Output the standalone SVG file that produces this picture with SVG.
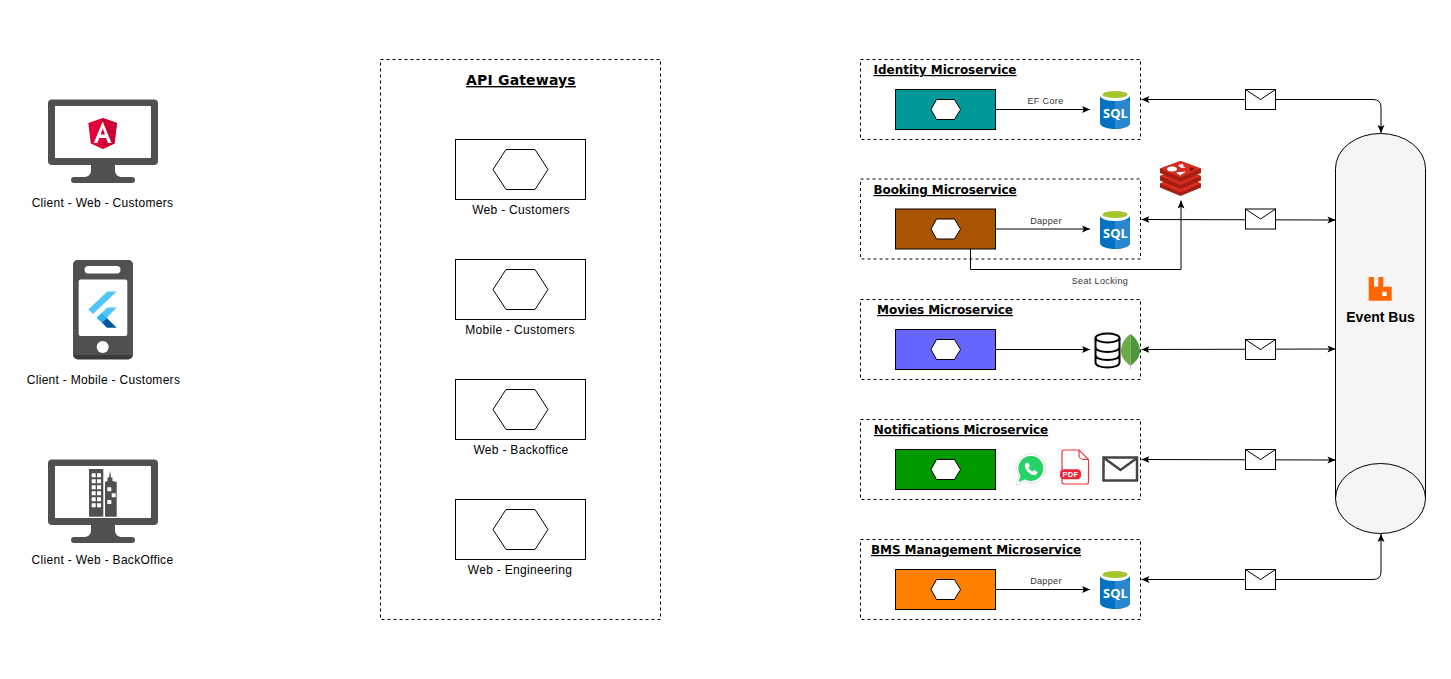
<svg xmlns="http://www.w3.org/2000/svg" width="1451" height="679" viewBox="0 0 1451 679">
<style>
text{font-family:"Liberation Sans",Arial,sans-serif;fill:#000;text-anchor:middle}
.lbl{font-size:12px;letter-spacing:.3px}
.sm{font-size:9px;fill:#333;letter-spacing:.37px}
.ttl{font-family:"DejaVu Sans",Verdana,sans-serif;font-weight:bold;text-decoration:underline;font-size:12px;letter-spacing:-.08px}
.box{fill:none;stroke:#000;stroke-dasharray:3 3}
.gw{fill:#fff;stroke:#000}
.hex{fill:#fff;stroke:#000}
.edge{fill:none;stroke:#000;stroke-width:1}
.env{fill:#fff;stroke:#000}
.dark{fill:#505050}
</style>
<defs>
<marker id="a" viewBox="0 0 8 8" refX="8" refY="4" markerWidth="8" markerHeight="8" orient="auto-start-reverse" markerUnits="userSpaceOnUse"><path d="M0 0.500L8 4L0 7.500L1.800 4Z" fill="#000"/></marker>
<g id="monitor"><path class="dark" fill-rule="evenodd" d="M52 99.500H154a4 4 0 0 1 4 4V161a4 4 0 0 1-4 4H115v5q0 6 6 7h11a3 3 0 0 1 0 6H74a3 3 0 0 1 0-6h11q6-1 6-7v-5H52a4 4 0 0 1-4-4V103.500a4 4 0 0 1 4-4ZM55 106V158H151V106Z"/></g>
<g id="sql"><path d="M1100 95V123C1100 126.500 1107 129 1115 129S1130 126.500 1130 123V95Z" fill="#0072c6"/><path d="M1115 100H1130V123C1130 126.500 1123 129 1115 129Z" fill="#2a88d0"/><ellipse cx="1115" cy="95.500" rx="15" ry="5.500" fill="#fff"/><ellipse cx="1115" cy="94.500" rx="12.500" ry="3.500" fill="#a4c62a"/><text x="1115.500" y="117.700" style="font-family:'Open Sans',sans-serif;font-size:13px;font-weight:700;fill:#fff">SQL</text></g>
<g id="envelope"><rect class="env" x="0" y="0" width="30" height="20"/><path d="M0 0L15 10L30 0" fill="none" stroke="#000"/></g>
</defs>

<g id="connectors">
<path class="edge" d="M996 109.500H1090" marker-end="url(#a)"/>
<path class="edge" d="M996 229H1090" marker-end="url(#a)"/>
<path class="edge" d="M996 349.500H1090" marker-end="url(#a)"/>
<path class="edge" d="M996 589.500H1090" marker-end="url(#a)"/>
<path class="edge" d="M970.500 249V269.500H1181V200.500" marker-end="url(#a)"/>
<path class="edge" d="M1141.500 99.500H1373Q1381 99.500 1381 107V133" marker-start="url(#a)" marker-end="url(#a)"/>
<path class="edge" d="M1141.500 219.500L1335.500 220" marker-start="url(#a)" marker-end="url(#a)"/>
<path class="edge" d="M1141.500 349.500L1335.500 349" marker-start="url(#a)" marker-end="url(#a)"/>
<path class="edge" d="M1141.500 459.500L1335.500 460" marker-start="url(#a)" marker-end="url(#a)"/>
<path class="edge" d="M1141.500 579.500H1373Q1381 579.500 1381 572V534" marker-start="url(#a)" marker-end="url(#a)"/>
<text class="sm" x="1045.500" y="104">EF Core</text>
<text class="sm" x="1046" y="224">Dapper</text>
<text class="sm" x="1046" y="584">Dapper</text>
<text class="sm" x="1100" y="284">Seat Locking</text>
<use href="#envelope" x="1245.500" y="89.500"/>
<use href="#envelope" x="1245.500" y="209"/>
<use href="#envelope" x="1245.500" y="339.500"/>
<use href="#envelope" x="1245.500" y="449.500"/>
<use href="#envelope" x="1245.500" y="569.500"/>
</g>

<g id="client-web-customers">
<use href="#monitor"/>
<path d="M102.700 118L117 123L114.500 143.500L102.700 149L90.800 143.500L88.300 123Z" fill="#e2003a"/>
<path d="M102.700 118L117 123L114.500 143.500L102.700 149Z" fill="#cc0033"/>
<path d="M102.700 121.500L111.500 143H108L106 138H99.300L97.300 143H93.800ZM100.500 134.500H105L102.700 128.500Z" fill="#fff" fill-rule="evenodd"/>
<text class="lbl" x="102.500" y="207">Client - Web - Customers</text>
</g>

<g id="client-mobile-customers">
<rect x="73" y="260" width="60" height="99.500" rx="5" fill="#3a3a3a"/>
<path d="M78 260H128a5 5 0 0 1 5 5V355H73V265a5 5 0 0 1 5-5Z" fill="#505050"/>
<rect x="84.500" y="266" width="36" height="7.500" rx="3.700" fill="#fff"/>
<rect x="78.700" y="279.500" width="48.600" height="56.500" rx="2" fill="#fff"/>
<circle cx="102.700" cy="347" r="6" fill="#fff"/>
<path d="M88.300 309.500L107.300 291.500H116.700L93 314Z" fill="#54c5f8"/>
<path d="M96.700 317.700L107.300 307.500H116.700L102 322.700Z" fill="#54c5f8"/>
<path d="M96.700 317.700L101.500 313L106.800 318L102 322.700Z" fill="#29b6f6"/>
<path d="M102 322.700L106.800 318L116.700 327.700H107Z" fill="#01579b"/>
<text class="lbl" x="103.500" y="384">Client - Mobile - Customers</text>
</g>

<g id="client-web-backoffice">
<use href="#monitor" y="360"/>
<path class="dark" d="M89 469H103.300V516.700H89Z"/>
<path class="dark" d="M105 516.700V482L107.500 481V477.500H109L110 470.500L111 477.500H112.500V481L116.700 482V516.700Z"/>
<g fill="#fff">
<path d="M91.700 473.300h4v4h-4ZM97 473.300h4v4h-4ZM91.700 479.300h4v4h-4ZM97 479.300h4v4h-4ZM91.700 485.300h4v4h-4ZM97 485.300h4v4h-4ZM91.700 491.300h4v4h-4ZM97 491.300h4v4h-4ZM91.700 497.300h4v4h-4ZM97 497.300h4v4h-4ZM91.700 503.300h4v4h-4ZM97 503.300h4v4h-4Z"/>
<path d="M107.300 487.300h4v4h-4ZM111.700 493.300h4v4h-4ZM107.300 500h4v4h-4Z"/>
</g>
<text class="lbl" x="102.500" y="564">Client - Web - BackOffice</text>
</g>

<g id="api-gateways">
<rect class="box" x="380.500" y="59.500" width="280" height="560"/>
<text class="ttl" x="521" y="85" style="font-size:14px;letter-spacing:.17px">API Gateways</text>
</g>
<g id="gw-web-customers"><rect class="gw" x="455.500" y="139.500" width="130" height="60"/><path class="hex" d="M493 169.500L506 149.500H535L548 169.500L535 189.500H506Z"/><text class="lbl" x="521" y="214">Web - Customers</text></g>
<g id="gw-mobile-customers"><rect class="gw" x="455.500" y="259.500" width="130" height="60"/><path class="hex" d="M493 289.500L506 269.500H535L548 289.500L535 309.500H506Z"/><text class="lbl" x="520" y="334">Mobile - Customers</text></g>
<g id="gw-web-backoffice"><rect class="gw" x="455.500" y="379.500" width="130" height="60"/><path class="hex" d="M493 409.500L506 389.500H535L548 409.500L535 429.500H506Z"/><text class="lbl" x="521" y="454">Web - Backoffice</text></g>
<g id="gw-web-engineering"><rect class="gw" x="455.500" y="499.500" width="130" height="60"/><path class="hex" d="M493 529.500L506 509.500H535L548 529.500L535 549.500H506Z"/><text class="lbl" x="520" y="574">Web - Engineering</text></g>

<g id="identity-microservice">
<rect class="box" x="860.500" y="59.500" width="280" height="80"/>
<text class="ttl" x="945" y="74" style="letter-spacing:0">Identity Microservice</text>
<rect x="895.500" y="89.500" width="100" height="40" fill="#009999" stroke="#000"/>
<path class="hex" d="M931 109.500L936.500 99.500H954.500L960.500 109.500L954.500 119.500H936.500Z"/>
<use href="#sql"/>
</g>
<g id="booking-microservice">
<rect class="box" x="860.500" y="179" width="280" height="80"/>
<text class="ttl" x="945" y="194">Booking Microservice</text>
<rect x="895.500" y="209" width="100" height="40" fill="#a85400" stroke="#000"/>
<path class="hex" d="M931 229L936.500 219H954.500L960.500 229L954.500 239H936.500Z"/>
<use href="#sql" y="120"/>
</g>
<g id="redis">
<path d="M1160 183.500L1180.500 175L1201 183.500V187.500L1180.500 196L1160 187.500Z" fill="#a41e11"/>
<path d="M1160 183.500L1180.500 175.500L1201 183.500L1180.500 192.500Z" fill="#d82c20"/>
<path d="M1160 176L1180.500 168L1201 176V180.500L1180.500 189L1160 180.500Z" fill="#a41e11"/>
<path d="M1160 176L1180.500 168L1201 176L1180.500 185Z" fill="#d82c20"/>
<path d="M1160 168.500L1180.500 161L1201 168.500V173L1180.500 182L1160 173Z" fill="#a41e11"/>
<path d="M1160 168.500L1180.500 161L1201 168.500L1180.500 177.500Z" fill="#d82c20"/>
<ellipse cx="1172" cy="169" rx="5" ry="2.500" fill="#fff"/>
<path d="M1178 165L1183 164L1183.500 166.500L1186 167.500L1181 168Z M1176 172.500L1186 171.500L1180 175.500Z" fill="#fff"/>
<path d="M1190 167L1195 169L1190 171Z" fill="#7a0c00"/>
</g>
<g id="movies-microservice">
<rect class="box" x="860.500" y="299.500" width="280" height="80"/>
<text class="ttl" x="945" y="314">Movies Microservice</text>
<rect x="895.500" y="329.500" width="100" height="40" fill="#6666ff" stroke="#000"/>
<path class="hex" d="M931 349.500L936.500 339.500H954.500L960.500 349.500L954.500 359.500H936.500Z"/>
<g fill="none" stroke="#000" stroke-width="2"><ellipse cx="1107.500" cy="338" rx="12" ry="4.500"/><path d="M1095.500 338V362.500c0 3 5 5 12 5s12-2 12-5V338M1095.500 347c0 3 5 5 12 5s12-2 12-5M1095.500 355c0 3 5 5 12 5s12-2 12-5"/></g>
<path d="M1130.500 334C1125 338 1121 344 1121 351C1121 358 1126 362 1130.500 366Z" fill="#6cac48"/>
<path d="M1130.500 334C1136 338 1140 344 1140 351C1140 358 1135 362 1130.500 366Z" fill="#4f953b"/>
<path d="M1130.500 364V369" stroke="#b8c4c2" stroke-width="1"/>
</g>
<g id="notifications-microservice">
<rect class="box" x="860.500" y="419.500" width="280" height="80"/>
<text class="ttl" x="961" y="434">Notifications Microservice</text>
<rect x="895.500" y="449.500" width="100" height="40" fill="#009900" stroke="#000"/>
<path class="hex" d="M931 469.500L936.500 459.500H954.500L960.500 469.500L954.500 479.500H936.500Z"/>
<path d="M1016 485.500L1018.500 475.500A14.500 14.500 0 1 1 1024 481Z" fill="#fff" stroke="#e0e0e0"/>
<path d="M1018.500 482L1020.500 475.500A12.500 12.500 0 1 1 1025 479.500Z" fill="#25d366"/>
<path d="M1026 463C1024 465 1025 469 1028 472C1031 475 1035 476 1037 474L1037.500 472L1034 470L1032.500 471.500C1031 471 1029 469 1028.500 467.500L1030 466L1028 462.500Z" fill="#fff"/>
<path d="M1064 450H1079L1088.500 459.500V482a2 2 0 0 1-2 2H1064a2 2 0 0 1-2-2V452a2 2 0 0 1 2-2Z" fill="#fff" stroke="#f0323c" stroke-width="1.200"/>
<path d="M1079 450V455a4.500 4.500 0 0 0 4.500 4.500H1088.500" fill="none" stroke="#f0323c" stroke-width="1.200"/>
<rect x="1060" y="469.300" width="21" height="10" rx="4" fill="#f0263c"/>
<text x="1070.500" y="477" style="font-size:7.500px;font-weight:bold;letter-spacing:.4px;fill:#fff">PDF</text>
<rect x="1103.500" y="457.500" width="33.500" height="23" fill="#fff" stroke="#444" stroke-width="2.500"/>
<path d="M1104 458L1120.500 470L1137 458" fill="none" stroke="#444" stroke-width="2.500"/>
</g>
<g id="bms-management-microservice">
<rect class="box" x="860.500" y="539.500" width="280" height="80"/>
<text class="ttl" x="976" y="554">BMS Management Microservice</text>
<rect x="895.500" y="569.500" width="100" height="40" fill="#ff8000" stroke="#000"/>
<path class="hex" d="M931 589.500L936.500 579.500H954.500L960.500 589.500L954.500 599.500H936.500Z"/>
<use href="#sql" y="480"/>
</g>
<g id="event-bus">
<path d="M1335.500 168.500A45 35 0 0 1 1425.500 168.500V498.500A45 35 0 0 1 1335.500 498.500Z" fill="#f5f5f5" stroke="#000"/>
<path d="M1335.500 498.500A45 35 0 0 1 1425.500 498.500" fill="none" stroke="#000"/>
<path d="M1368.700 277H1374V286.700H1378.300V277H1383.300V286.700H1391.700V300.700H1368.700Z" fill="#ff6600"/>
<rect x="1382.300" y="291.700" width="4.400" height="4.300" fill="#fff"/>
<text x="1380.500" y="322" style="font-size:14px;font-weight:bold">Event Bus</text>
</g>
</svg>
